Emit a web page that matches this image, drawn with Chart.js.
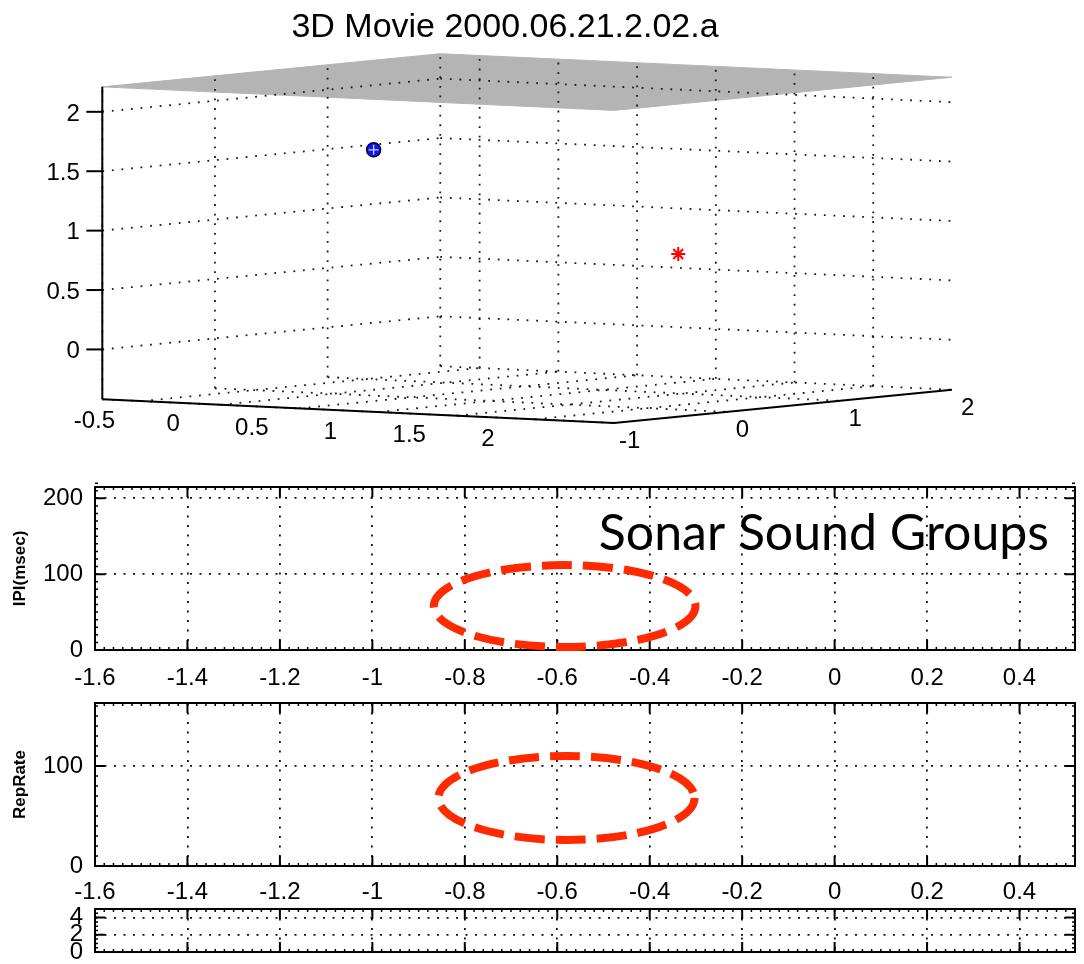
<!DOCTYPE html>
<html>
<head>
<meta charset="utf-8">
<script src="https://cdn.jsdelivr.net/npm/chart.js@4.4.1/dist/chart.umd.min.js"></script>
<style>
  body { margin: 0; background: #fff; width: 1084px; height: 964px; overflow: hidden; position: relative; }
  canvas { position: absolute; left: 0; }
</style>
</head>
<body>
<canvas id="movie3d" width="1010" height="470" style="top:0"></canvas>
<canvas id="ipiChart" width="1084" height="220" style="top:470px"></canvas>
<canvas id="repChart" width="1084" height="216" style="top:690px"></canvas>
<canvas id="lowChart" width="1084" height="58" style="top:906px"></canvas>
<script>
// 3D box (data units)
const xLim3d = [-0.75, 2.5];
const yLim3d = [-1, 2];
const zLim3d = [-0.42, 2.21];
const xTicks3d = [-0.5, 0, 0.5, 1, 1.5, 2];
const yTicks3d = [-1, 0, 1, 2];
const zTicks3d = [0, 0.5, 1, 1.5, 2];
const surfaceHeight = [2.21];
const batPosition = [-0.1, 0.5, 1.58];
const targetPosition = [1.62, 0.8, 0.78];

// lower panels
const timeRange = [-1.6, 0.52];
const timeTicks = [-1.6, -1.4, -1.2, -1, -0.8, -0.6, -0.4, -0.2, 0, 0.2, 0.4];
const ipiRange = [0, 215];
const ipiTicks = [0, 100, 200];
const repRange = [0, 163];
const repTicks = [0, 100];
const lowRange = [0, 5];
const lowTicks = [0, 2, 4];
// sound group outline: centre time, centre value, half width, half height
const ipiGroup = [-0.584, 58, 0.283, 54];
const repGroup = [-0.58, 68, 0.277, 42];

Chart.defaults.font.family = '"Liberation Sans", Arial, sans-serif';
Chart.defaults.color = "#000";

// camera for the 3D view: page position of the box's lower left corner and one unit along each axis
const view = { left: 95, floor: 407, ex: [160.3, 7.4], ey: [114.7, -11.3], ez: [0, -121.4] };
const TITLE_SIZE = 34;
const TITLE_PAD = 7;

function project(x, y, z) {
  const a = x - xLim3d[0], b = y - yLim3d[0], c = z - zLim3d[0];
  return {
    x: view.left + a * view.ex[0] + b * view.ey[0] + c * view.ez[0],
    y: view.floor + a * view.ex[1] + b * view.ey[1] + c * view.ez[1]
  };
}

const [x0, x1] = xLim3d;
const [y0, y1] = yLim3d;
const [z0, z1] = zLim3d;

const dotted = { borderColor: "#1a1a1a", borderWidth: 1.8, borderDash: [1.8, 7.8], pointRadius: 0, showLine: true, clip: false, order: 5 };
const solid = { borderColor: "#000", borderWidth: 2, pointRadius: 0, showLine: true, clip: false, order: 1 };

function segment(p, q, style) {
  return Object.assign({ data: [project(...p), project(...q)] }, style);
}

const sets3d = [];
sets3d.push({
  data: [[x0, y0], [x1, y0], [x1, y1], [x0, y1], [x0, y0]].map(([x, y]) => project(x, y, surfaceHeight[0])),
  fill: "shape",
  backgroundColor: "#b4b4b4",
  borderColor: "#b4b4b4",
  borderWidth: 1,
  pointRadius: 0,
  showLine: true,
  clip: false,
  order: 10
});
zTicks3d.forEach(z => {
  sets3d.push(segment([x0, y0, z], [x0, y1, z], dotted));
  sets3d.push(segment([x0, y1, z], [x1, y1, z], dotted));
});
yTicks3d.forEach(y => {
  sets3d.push(segment([x0, y, z0], [x0, y, z1], dotted));
  sets3d.push(segment([x0, y, z0], [x1, y, z0], dotted));
});
xTicks3d.forEach(x => {
  sets3d.push(segment([x, y1, z0], [x, y1, z1], dotted));
  sets3d.push(segment([x, y0, z0], [x, y1, z0], dotted));
});
sets3d.push(segment([x0, y0, z0], [x0, y0, z1], solid));
sets3d.push(segment([x0, y0, z0], [x1, y0, z0], solid));
sets3d.push(segment([x1, y0, z0], [x1, y1, z0], solid));

sets3d.push({
  data: [project(...batPosition)], pointStyle: "circle", pointRadius: 7,
  pointBackgroundColor: "#1414ff", pointBorderColor: "#00002a", pointBorderWidth: 1.5,
  showLine: false, clip: false, order: 0
});
sets3d.push({
  data: [project(...batPosition)], pointStyle: "cross", pointRadius: 5,
  pointBorderColor: "#d0d0ff", pointBorderWidth: 1.3,
  showLine: false, clip: false, order: -1
});
sets3d.push({
  data: [project(...targetPosition)], pointStyle: "star", pointRadius: 7,
  pointBorderColor: "#ff0000", pointBorderWidth: 2,
  showLine: false, clip: false, order: 0
});

const axisText3d = {
  id: "axisText3d",
  afterDatasetsDraw(chart) {
    const { ctx, scales } = chart;
    const pix = p => [scales.x.getPixelForValue(p.x), scales.y.getPixelForValue(p.y)];
    ctx.save();
    ctx.font = '24px "Liberation Sans", Arial, sans-serif';
    ctx.fillStyle = "#000";
    ctx.strokeStyle = "#000";
    ctx.lineWidth = 2;
    ctx.textBaseline = "middle";

    zTicks3d.forEach(z => {
      const [u, v] = pix(project(x0, y0, z));
      ctx.beginPath();
      ctx.moveTo(u, v);
      ctx.lineTo(u - 16, v);
      ctx.stroke();
      const [lu, lv] = pix(project(x0, y0 - 0.2, z));
      ctx.textAlign = "right";
      ctx.fillText(String(z), lu, lv);
    });

    ctx.textAlign = "center";
    xTicks3d.forEach(x => {
      const [lu, lv] = pix(project(x, y0 - 0.42, z0 - 0.13));
      ctx.fillText(String(x), lu, lv);
    });
    yTicks3d.forEach(y => {
      const [lu, lv] = pix(project(x1 + 0.1, y, z0 - 0.15));
      ctx.fillText(String(y), lu, lv);
    });
    ctx.restore();
  }
};

new Chart(document.getElementById("movie3d"), {
  type: "scatter",
  data: { datasets: sets3d },
  options: {
    responsive: false,
    animation: false,
    devicePixelRatio: 1,
    events: [],
    layout: { padding: 0 },
    plugins: {
      legend: { display: false },
      tooltip: { enabled: false },
      title: {
        display: true,
        text: "3D Movie 2000.06.21.2.02.a",
        font: { size: TITLE_SIZE, weight: "normal", lineHeight: 1.2 },
        color: "#000",
        padding: { top: TITLE_PAD, bottom: 0 }
      }
    },
    scales: {
      x: { type: "linear", display: false, min: 0, max: 1010 },
      y: { type: "linear", display: false, reverse: true, min: TITLE_SIZE * 1.2 + TITLE_PAD, max: 470 }
    }
  },
  plugins: [axisText3d]
});

// frame, inward ticks and minor ticks like the original axes
const matlabFrame = {
  id: "matlabFrame",
  afterDatasetsDraw(chart, args, opts) {
    const { ctx, chartArea: a, scales: { x, y } } = chart;
    ctx.save();
    ctx.strokeStyle = "#000";
    ctx.lineWidth = 1.5;
    ctx.beginPath();
    const nx = Math.round((x.max - x.min) / opts.minorX);
    for (let i = 0; i <= nx; i++) {
      const px = x.getPixelForValue(x.min + i * opts.minorX);
      ctx.moveTo(px, a.bottom); ctx.lineTo(px, a.bottom - 3);
      ctx.moveTo(px, a.top); ctx.lineTo(px, a.top + 3);
    }
    const ny = Math.round((y.max - y.min) / opts.minorY);
    for (let i = 0; i <= ny; i++) {
      const py = y.getPixelForValue(y.min + i * opts.minorY);
      ctx.moveTo(a.left, py); ctx.lineTo(a.left + 3, py);
      ctx.moveTo(a.right, py); ctx.lineTo(a.right - 3, py);
    }
    ctx.stroke();
    ctx.lineWidth = 2;
    ctx.beginPath();
    x.ticks.forEach(t => {
      const px = x.getPixelForValue(t.value);
      ctx.moveTo(px, a.bottom); ctx.lineTo(px, a.bottom - 10);
      ctx.moveTo(px, a.top); ctx.lineTo(px, a.top + 10);
    });
    y.ticks.forEach(t => {
      const py = y.getPixelForValue(t.value);
      ctx.moveTo(a.left, py); ctx.lineTo(a.left + 10, py);
      ctx.moveTo(a.right, py); ctx.lineTo(a.right - 10, py);
    });
    ctx.stroke();
    ctx.strokeRect(a.left, a.top, a.right - a.left, a.bottom - a.top);
    ctx.restore();
  }
};

const groupOutline = {
  id: "groupOutline",
  afterDraw(chart, args, opts) {
    if (!opts.shape) return;
    const { ctx, scales: { x, y } } = chart;
    const [cx, cy, rx, ry] = opts.shape;
    const px = x.getPixelForValue(cx), py = y.getPixelForValue(cy);
    const rpx = Math.abs(x.getPixelForValue(cx + rx) - px);
    const rpy = Math.abs(y.getPixelForValue(cy + ry) - py);
    ctx.save();
    ctx.strokeStyle = "#ff2a00";
    ctx.lineWidth = 8;
    ctx.setLineDash([30, 11]);
    ctx.beginPath();
    ctx.ellipse(px, py, rpx, rpy, 0, 0, Math.PI * 2);
    ctx.stroke();
    ctx.restore();
  }
};

const caption = {
  id: "caption",
  afterDraw(chart, args, opts) {
    if (!opts.text) return;
    const { ctx, chartArea: a } = chart;
    ctx.save();
    ctx.font = opts.font;
    ctx.fillStyle = "#000";
    ctx.textAlign = "right";
    ctx.textBaseline = "alphabetic";
    ctx.fillText(opts.text, a.right - 26, a.top + 63);
    ctx.restore();
  }
};

function panel(id, cfg) {
  return new Chart(document.getElementById(id), {
    type: "scatter",
    data: { datasets: [] },
    options: {
      responsive: false,
      animation: false,
      devicePixelRatio: 1,
      events: [],
      layout: { padding: { top: cfg.padTop, right: 9, bottom: cfg.padBottom, left: 0 } },
      plugins: {
        legend: { display: false },
        tooltip: { enabled: false },
        matlabFrame: { minorX: 0.02, minorY: cfg.minorY },
        groupOutline: { shape: cfg.group },
        caption: cfg.caption || {}
      },
      scales: {
        x: {
          type: "linear",
          min: timeRange[0],
          max: timeRange[1],
          afterBuildTicks: s => { s.ticks = timeTicks.map(v => ({ value: v })); },
          afterFit: s => { s.height = cfg.xHeight; s.paddingLeft = 0; s.paddingRight = 0; },
          ticks: {
            display: cfg.showXLabels,
            font: { size: 24 },
            padding: cfg.xPad,
            maxRotation: 0,
            autoSkip: false,
            callback: v => String(v)
          },
          grid: { color: "#111", lineWidth: 1.8, drawTicks: false },
          border: { display: false, dash: [2, 7.5] }
        },
        y: {
          type: "linear",
          min: cfg.range[0],
          max: cfg.range[1],
          afterBuildTicks: s => { s.ticks = cfg.ticks.map(v => ({ value: v })); },
          afterFit: s => { s.width = 95; s.paddingTop = 0; s.paddingBottom = 0; },
          ticks: {
            font: { size: 24 },
            padding: 12,
            autoSkip: false,
            callback: v => String(v)
          },
          title: {
            display: !!cfg.label,
            text: cfg.label || "",
            font: { size: 17, weight: "bold" },
            padding: { top: 10, bottom: 0 }
          },
          grid: { color: "#111", lineWidth: 1.8, drawTicks: false },
          border: { display: false, dash: [2, 7.5] }
        }
      }
    },
    plugins: [matlabFrame, groupOutline, caption]
  });
}

panel("ipiChart", {
  padTop: 17, padBottom: 0, xHeight: 40, xPad: 14, showXLabels: true,
  range: ipiRange, ticks: ipiTicks, minorY: 10, label: "IPI(msec)", group: ipiGroup,
  caption: { text: "Sonar Sound Groups", font: '50px Lato, "Open Sans", sans-serif' }
});
panel("repChart", {
  padTop: 13, padBottom: 0, xHeight: 40, xPad: 12, showXLabels: true,
  range: repRange, ticks: repTicks, minorY: 10, label: "RepRate", group: repGroup
});
panel("lowChart", {
  padTop: 3, padBottom: 12, xHeight: 0, xPad: 0, showXLabels: false,
  range: lowRange, ticks: lowTicks, minorY: 0.5, label: "", group: null
});
</script>
</body>
</html>
